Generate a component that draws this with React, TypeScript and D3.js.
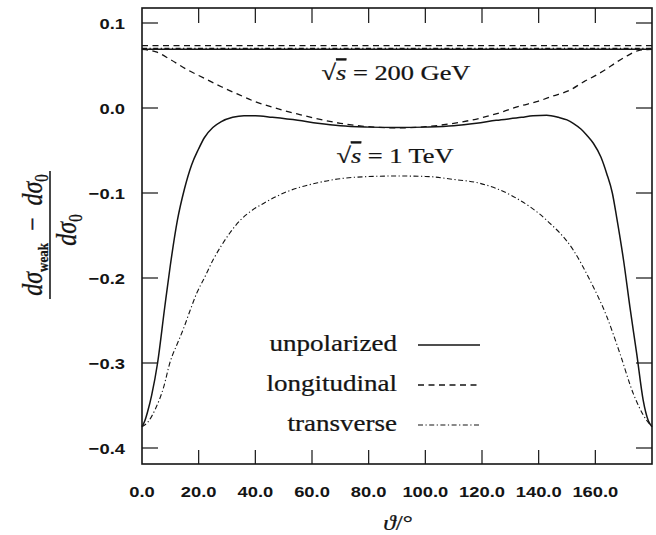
import React from "react";
import * as d3 from "d3";

const W = 656;
const H = 535;

// Relative weak correction versus scattering angle (degrees)
// sqrt(s) = 200 GeV: practically angle independent
const unpol200Angles = [0, 180];
const unpol200 = [0.069, 0.069];
const trans200Angles = [0, 180];
const trans200 = [0.0702, 0.0702];
const long200Angles = [0, 180];
const long200 = [0.0735, 0.0735];

// sqrt(s) = 1 TeV
const unpol1TeVAngles = [
  0, 1, 2, 3.4, 5.5, 8, 10, 12.5, 15, 17.5, 20, 22, 25, 28, 32, 36, 40, 46, 55, 62, 70, 80, 90,
  100, 110, 118, 125, 134, 138, 142.8, 147, 150, 152.2, 155, 157, 159.3, 162, 164, 166, 167.5,
  170, 172.2, 174.6, 176.9, 178.7, 180,
];
const unpol1TeV = [
  -0.375, -0.368, -0.357, -0.338, -0.3, -0.235, -0.185, -0.132, -0.095, -0.067, -0.048, -0.035,
  -0.023, -0.016, -0.011, -0.009, -0.009, -0.011, -0.0145, -0.018, -0.021, -0.0225, -0.023,
  -0.0225, -0.021, -0.018, -0.0145, -0.011, -0.009, -0.0085, -0.011, -0.014, -0.018, -0.025,
  -0.032, -0.0415, -0.058, -0.077, -0.1, -0.128, -0.18, -0.234, -0.289, -0.344, -0.368, -0.375,
];

const long1TeVAngles = [
  0, 5, 10, 16, 22, 28, 34, 40, 46, 51.5, 56, 61, 70, 80, 90, 100, 110, 119.3, 127.5, 133,
  139.3, 145, 151, 156, 160.5, 164, 167.5, 171, 175.8, 180,
];
const long1TeV = [
  0.069, 0.066, 0.057, 0.045, 0.035, 0.025, 0.016, 0.0074, 0.001, -0.0043, -0.008, -0.012,
  -0.018, -0.022, -0.0235, -0.022, -0.018, -0.012, -0.0043, 0.002, 0.0074, 0.014, 0.021, 0.031,
  0.039, 0.046, 0.054, 0.061, 0.068, 0.069,
];

const trans1TeVAngles = [
  0, 2.2, 4.6, 7.5, 10, 12.5, 14.6, 17, 19.3, 22, 25.2, 28, 31, 35, 39, 43, 51.5, 56, 62, 66.4,
  75, 90, 100, 110, 119.3, 131, 142.8, 152.2, 158, 164, 168.7, 173.4, 178, 180,
];
const trans1TeV = [
  -0.375, -0.369, -0.355, -0.33, -0.298, -0.277, -0.26, -0.238, -0.218, -0.2, -0.178, -0.162,
  -0.147, -0.131, -0.12, -0.112, -0.098, -0.093, -0.088, -0.085, -0.0815, -0.08, -0.0805,
  -0.084, -0.0886, -0.104, -0.132, -0.167, -0.202, -0.245, -0.289, -0.336, -0.367, -0.375,
];

const xTicks = [20, 40, 60, 80, 100, 120, 140, 160];
const xTickLabelValues = [0, 20, 40, 60, 80, 100, 120, 140, 160];
const yTicks = [0.1, 0, -0.1, -0.2, -0.3, -0.4];

const legendLabels = ["unpolarized", "longitudinal", "transverse"];
const energyLabels = ["200 GeV", "1 TeV"];

const INK = "#141414";
const SERIF = "'Liberation Serif', 'Times New Roman', serif";
const SANS = "'Liberation Sans', Arial, sans-serif";
const STRETCH = 1.2;

const STYLES = {
  solid: { width: 1.5, dash: undefined as string | undefined },
  dashed: { width: 1.3, dash: "6,4.5" },
  dashdot: { width: 1.1, dash: "5,2.5,1.2,2.5" },
};

function SText({
  x,
  y,
  anchor = "start",
  size,
  family = SERIF,
  weight = "normal",
  children,
}: {
  x: number;
  y: number;
  anchor?: string;
  size: number;
  family?: string;
  weight?: string;
  children: React.ReactNode;
}) {
  return (
    <g transform={`translate(${x},${y}) scale(${STRETCH},1)`}>
      <text
        textAnchor={anchor as any}
        fontFamily={family}
        fontSize={size}
        fontWeight={weight}
        fill={INK}
        stroke={family === SERIF ? INK : "none"}
        strokeWidth={family === SERIF ? 0.25 : 0}
      >
        {children}
      </text>
    </g>
  );
}

export default function App() {
  const left = 142;
  const right = 652;
  const top = 8;
  const bottom = 464;

  const x = d3.scaleLinear().domain([0, 180]).range([left, right]);
  const y = d3.scaleLinear().domain([0.1, -0.4]).range([23, 448]);

  const line = d3
    .line<[number, number]>()
    .x((d) => x(d[0]))
    .y((d) => y(d[1]))
    .curve(d3.curveMonotoneX);

  const pairs = (a: number[], v: number[]) => a.map((t, i) => [t, v[i]] as [number, number]);

  const series = [
    { a: long200Angles, v: long200, s: STYLES.dashed },
    { a: trans200Angles, v: trans200, s: STYLES.dashdot },
    { a: unpol200Angles, v: unpol200, s: STYLES.solid },
    { a: long1TeVAngles, v: long1TeV, s: STYLES.dashed },
    { a: trans1TeVAngles, v: trans1TeV, s: STYLES.dashdot },
    { a: unpol1TeVAngles, v: unpol1TeV, s: STYLES.solid },
  ];

  const legendStyles = [STYLES.solid, STYLES.dashed, STYLES.dashdot];
  const legendY = [345, 385, 425];

  const fmtY = (v: number) => (v < 0 ? "\u2212" : "") + Math.abs(v).toFixed(1);

  return (
    <svg
      width={W}
      height={H}
      style={{ position: "absolute", left: 0, top: 0, background: "#fff" }}
    >
      {/* curves */}
      {series.map((s, i) => (
        <path
          key={i}
          d={line(pairs(s.a, s.v)) || ""}
          fill="none"
          stroke={INK}
          strokeWidth={s.s.width}
          strokeDasharray={s.s.dash}
        />
      ))}

      {/* frame */}
      <rect
        x={left}
        y={top}
        width={right - left}
        height={bottom - top}
        fill="none"
        stroke={INK}
        strokeWidth={1.6}
      />

      {/* inward ticks */}
      {xTicks.map((t) => (
        <g key={"xt" + t} stroke={INK} strokeWidth={1.2}>
          <line x1={x(t)} x2={x(t)} y1={bottom} y2={bottom - 14} />
          <line x1={x(t)} x2={x(t)} y1={top} y2={top + 15} />
        </g>
      ))}
      {yTicks.map((t) => (
        <g key={"yt" + t} stroke={INK} strokeWidth={1.2}>
          <line x1={left} x2={left + 16} y1={y(t)} y2={y(t)} />
          <line x1={right} x2={right - 16} y1={y(t)} y2={y(t)} />
        </g>
      ))}

      {/* tick labels */}
      {xTickLabelValues.map((t) => (
        <SText key={"xl" + t} x={x(t)} y={497} anchor="middle" size={15.3} family={SANS} weight="bold">
          {t.toFixed(1)}
        </SText>
      ))}
      {yTicks.map((t) => (
        <SText key={"yl" + t} x={125} y={y(t) + 6} anchor="end" size={15.3} family={SANS} weight="bold">
          {fmtY(t)}
        </SText>
      ))}

      {/* x axis title */}
      <SText x={398} y={530} anchor="middle" size={21}>
        <tspan fontStyle="italic">ϑ</tspan>
        <tspan>/°</tspan>
      </SText>

      {/* y axis title: (dσ_weak − dσ_0) / dσ_0 */}
      <g transform={`translate(50,235) scale(${STRETCH},1) rotate(-90)`}>
        <line x1={-64} x2={64} y1={0} y2={0} stroke={INK} strokeWidth={1.3} />
        <text
          textAnchor="middle"
          y={-7}
          fontFamily={SERIF}
          fontSize={24}
          fill={INK}
          stroke={INK}
          strokeWidth={0.25}
        >
          <tspan fontStyle="italic">dσ</tspan>
          <tspan fontSize={13} fontWeight="bold" dy={5}>weak</tspan>
          <tspan dy={-5}>{"\u2002\u2212\u2002"}</tspan>
          <tspan fontStyle="italic">dσ</tspan>
          <tspan fontSize={15} dy={5}>0</tspan>
        </text>
        <text
          textAnchor="middle"
          x={5}
          y={22}
          fontFamily={SERIF}
          fontSize={24}
          fill={INK}
          stroke={INK}
          strokeWidth={0.25}
        >
          <tspan fontStyle="italic">dσ</tspan>
          <tspan fontSize={15} dy={5}>0</tspan>
        </text>
      </g>

      {/* energy annotations */}
      <SText x={396} y={80} anchor="middle" size={22}>
        <tspan>√</tspan>
        <tspan fontStyle="italic" style={{ textDecoration: "overline" }}>s</tspan>
        <tspan>{" = " + energyLabels[0]}</tspan>
      </SText>
      <SText x={395} y={163} anchor="middle" size={22}>
        <tspan>√</tspan>
        <tspan fontStyle="italic" style={{ textDecoration: "overline" }}>s</tspan>
        <tspan>{" = " + energyLabels[1]}</tspan>
      </SText>

      {/* legend */}
      {legendLabels.map((lab, i) => (
        <g key={lab}>
          <SText x={397} y={legendY[i] + 6} anchor="end" size={22.5}>
            {lab}
          </SText>
          <line
            x1={418}
            x2={480}
            y1={legendY[i]}
            y2={legendY[i]}
            stroke={INK}
            strokeWidth={legendStyles[i].width}
            strokeDasharray={legendStyles[i].dash}
          />
        </g>
      ))}
    </svg>
  );
}
